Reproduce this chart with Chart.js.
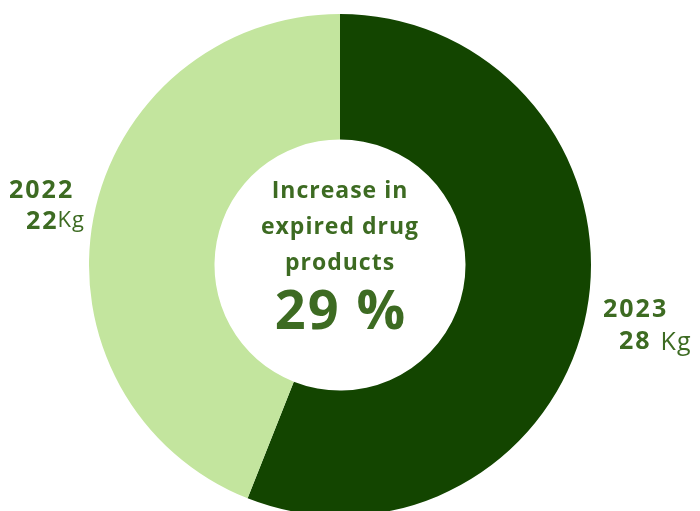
<!DOCTYPE html>
<html><head><meta charset="utf-8">
<script src="https://cdn.jsdelivr.net/npm/chart.js@4"></script>
<style>
html,body{margin:0;padding:0;background:#fff;overflow:hidden;width:700px;height:511px;}
#wrap{position:absolute;left:89px;top:14px;width:502px;height:502px;}
</style></head>
<body>
<div id="wrap"><canvas id="c"></canvas></div>
<script>
const years = ['2023', '2022'];
const weights = [28, 22];
const unit = 'Kg';
const colors = ['#134500', '#c3e59e'];
const centerLines = ['Increase in', 'expired drug', 'products'];
const centerValue = '29 %';
const textColor = '#3d6b22';
const FONT = '"Open Sans", "Noto Sans", sans-serif';

const textPlugin = {
  id: 'texts',
  afterDraw(chart) {
    const ctx = chart.ctx;
    const arc = chart.getDatasetMeta(0).data[0];
    const cx = arc.x, cy = arc.y;
    ctx.save();
    ctx.fillStyle = textColor;
    ctx.textAlign = 'center';
    ctx.textBaseline = 'middle';
    ctx.letterSpacing = '1px';
    ctx.font = 'bold 23px ' + FONT;
    ctx.fillText(centerLines[0], cx, cy - 74);
    ctx.fillText(centerLines[1], cx, cy - 38);
    ctx.fillText(centerLines[2], cx, cy - 2);
    ctx.letterSpacing = '2px';
    ctx.font = 'bold 54px ' + FONT;
    ctx.fillText(centerValue, cx + 1, cy + 49);
    ctx.restore();
  }
};

new Chart(document.getElementById('c'), {
  type: 'doughnut',
  data: {
    labels: years,
    datasets: [{ data: weights, backgroundColor: colors, borderWidth: 0, hoverOffset: 0 }]
  },
  options: {
    responsive: true,
    maintainAspectRatio: false,
    animation: false,
    cutout: '50%',
    layout: { padding: 0 },
    plugins: { legend: { display: false }, tooltip: { enabled: false } }
  },
  plugins: [textPlugin]
});
</script>
<canvas id="lbl" width="700" height="511" style="position:absolute;left:0;top:0;pointer-events:none"></canvas>
<script>
(function(){
  const ctx = document.getElementById('lbl').getContext('2d');
  ctx.fillStyle = textColor;
  ctx.textBaseline = 'middle';
  ctx.textAlign = 'left';
  // 2022 label (left)
  ctx.letterSpacing = '2px';
  ctx.font = 'bold 25px ' + FONT;
  ctx.fillText(years[1], 9, 191);
  ctx.fillText(String(weights[1]), 26, 222);
  let w = ctx.measureText(String(weights[1])).width;
  ctx.letterSpacing = '1px';
  ctx.font = '22px ' + FONT;
  ctx.fillText(unit, 26 + w - 1, 221);
  // 2023 label (right)
  ctx.letterSpacing = '2px';
  ctx.font = 'bold 25px ' + FONT;
  ctx.fillText(years[0], 603, 310);
  ctx.fillText(String(weights[0]), 619, 342);
  w = ctx.measureText(String(weights[0])).width;
  ctx.letterSpacing = '1px';
  ctx.font = '25px ' + FONT;
  ctx.fillText(unit, 619 + w + 9, 343);
})();
</script>
</body></html>
